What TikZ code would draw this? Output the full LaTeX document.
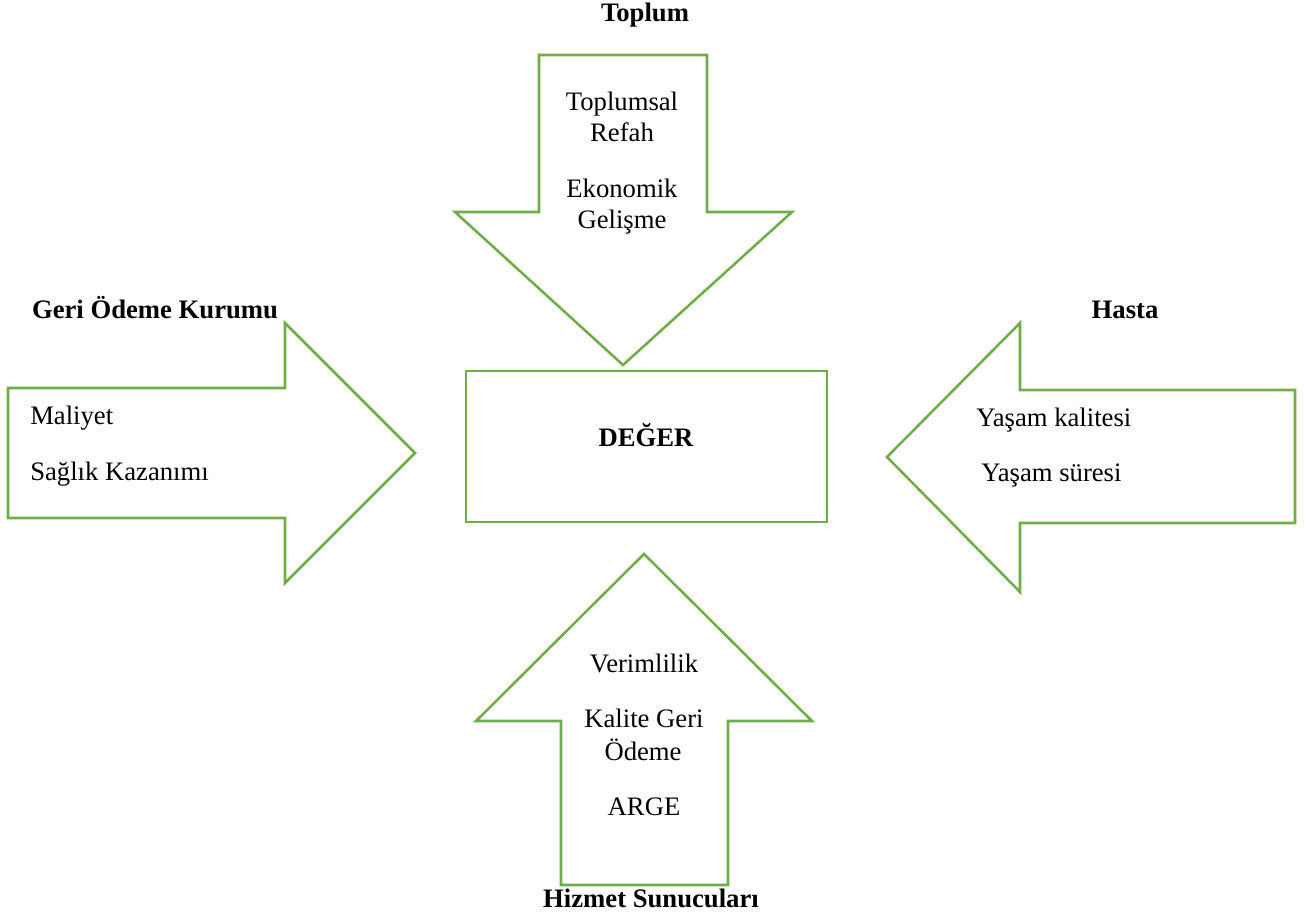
\documentclass[tikz,border=0pt]{standalone}
\usepackage{fontspec}
\setmainfont{Liberation Serif}
\definecolor{arrowgreen}{RGB}{112,173,71}
\begin{document}
\begin{tikzpicture}[x=0.75pt,y=-0.75pt,
  arrowshape/.style={draw=arrowgreen,line width=1.9pt,line join=miter,fill=white},
  txt/.style={inner sep=0pt,anchor=base,font=\fontsize{20}{24}\selectfont},
  txtw/.style={txt,anchor=base west},
  ttl/.style={txt,font=\fontsize{20}{24}\selectfont\bfseries}]
\useasboundingbox (0,0) rectangle (1307,917);
% top arrow (Toplum)
\draw[arrowshape] (539,55) -- (707,55) -- (707,212) -- (792,212) -- (623,365) -- (455,212) -- (539,212) -- cycle;
% bottom arrow (Hizmet Sunuculari)
\draw[arrowshape] (644,554) -- (812,721) -- (728,721) -- (728,885) -- (561,885) -- (561,721) -- (476,721) -- cycle;
% left arrow (Geri Odeme Kurumu)
\draw[arrowshape] (8,388) -- (285,388) -- (285,323) -- (415,453) -- (285,583) -- (285,518) -- (8,518) -- cycle;
% right arrow (Hasta)
\draw[arrowshape] (887,457) -- (1020,323) -- (1020,390) -- (1295,390) -- (1295,523) -- (1020,523) -- (1020,592) -- cycle;
% centre box
\node[draw=arrowgreen,line width=1.9pt,minimum width=361*0.75pt,minimum height=151*0.75pt,inner sep=0pt] (deger) at (646.5,446.5) {};
\node[ttl] (degertxt) at (646,446) {DEĞER};
% titles
\node[ttl] (toplum) at (645,22) {Toplum};
\node[ttl] (gok) at (155,318) {Geri Ödeme Kurumu};
\node[ttl] (hasta) at (1125,318) {Hasta};
\node[ttl] (hizmet) at (651,907) {Hizmet Sunucuları};
% top texts
\node[txt] (t1) at (622,110) {Toplumsal};
\node[txt] (t2) at (622,142) {Refah};
\node[txt] (t3) at (622,197) {Ekonomik};
\node[txt] (t4) at (622,228) {Gelişme};
% left texts
\node[txtw] (l1) at (30,424) {Maliyet};
\node[txtw] (l2) at (30,480) {Sağlık Kazanımı};
% right texts
\node[txtw] (r1) at (976,426) {Yaşam kalitesi};
\node[txtw] (r2) at (981,481) {Yaşam süresi};
% bottom texts
\node[txt] (b1) at (644,672) {Verimlilik};
\node[txt] (b2) at (644,727) {Kalite Geri};
\node[txt] (b3) at (643,760) {Ödeme};
\node[txt] (b4) at (644,815) {ARGE};
\end{tikzpicture}
\end{document}
